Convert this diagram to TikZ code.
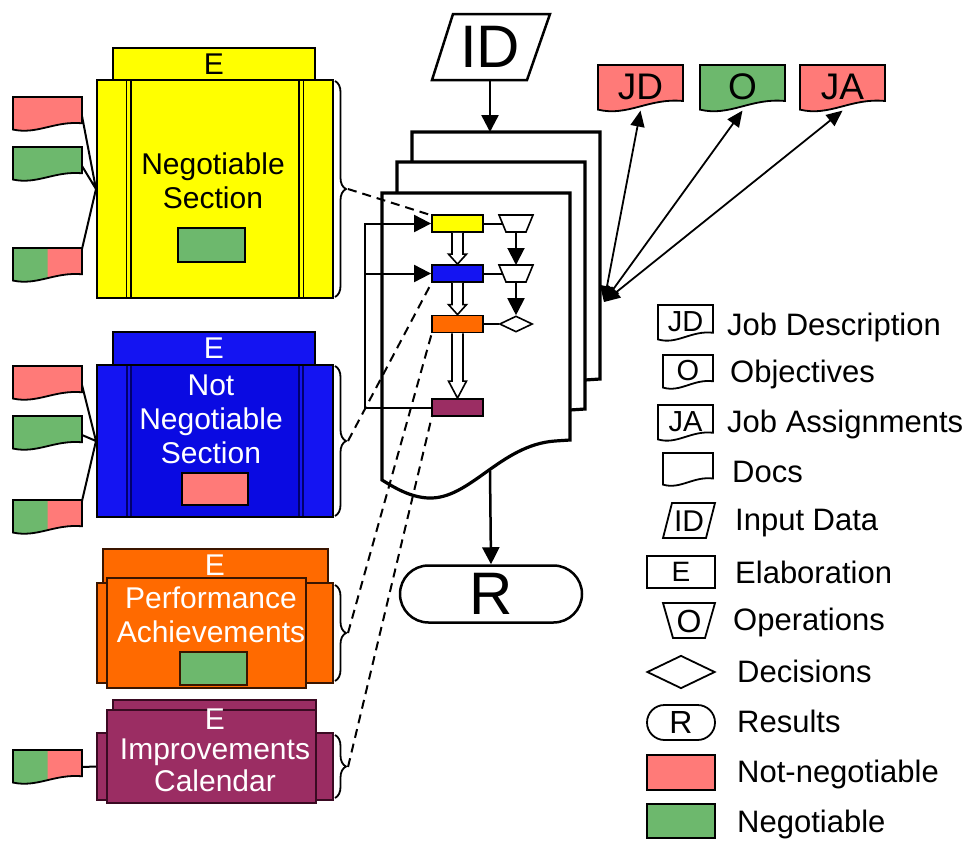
\documentclass[tikz,border=0pt]{standalone}
\usepackage{fontspec}
\setmainfont{Liberation Sans}
\usetikzlibrary{arrows.meta,calc,decorations.pathreplacing,shapes.geometric,shapes.misc}

\definecolor{yel}{HTML}{FFFF00}
\definecolor{blu}{HTML}{1414F2}
\definecolor{bluin}{HTML}{0A0AE2}
\definecolor{navy}{HTML}{00006E}
\definecolor{org}{HTML}{FF6A00}
\definecolor{pur}{HTML}{9B2D63}
\definecolor{neg}{HTML}{6DB86D}
\definecolor{nneg}{HTML}{FF7A78}
\definecolor{dkbrown}{HTML}{3A1500}
\definecolor{dkpur}{HTML}{3A0A22}

\newcommand\fsz[2]{\fontsize{#1}{#2}\selectfont}

% document symbol with a wavy lower edge: x, y (top left), width, height
\newcommand\docpath[4]{(#1,#2) -- ({#1+#3},#2) -- ({#1+#3},{#2+0.75*#4}) .. controls ({#1+0.6*#3},{#2+0.68*#4}) and ({#1+0.35*#3},{#2+1.08*#4}) .. (#1,{#2+0.93*#4}) -- cycle}

% coloured token: name, x, y, fill
\newcommand\tok[4]{%
  \draw[line width=1.8pt, fill=#4] \docpath{#2}{#3}{69}{35};
  \coordinate (#1) at ({#2+69},{#3+19});
}
% half negotiable / half not-negotiable token: name, x, y, anchor offset
\newcommand\splittok[4]{%
  \fill[neg] \docpath{#2}{#3}{69}{35};
  \begin{scope}
    \clip ({#2+34.5},{#3-2}) rectangle ({#2+72},{#3+42});
    \fill[nneg] \docpath{#2}{#3}{69}{35};
  \end{scope}
  \draw[line width=1.8pt] \docpath{#2}{#3}{69}{35};
  \coordinate (#1) at ({#2+69},{#3+#4});
}
% labelled document: name, x, y, w, h, fill, text, size
\newcommand\docnode[8]{%
  \draw[line width=1.8pt, fill=#6] \docpath{#2}{#3}{#4}{#5};
  \node[font=\fsz{#8}{#8}, inner sep=0pt] (#1) at ({#2+#4/2},{#3+0.45*#5}) {#7};
  \coordinate (#1-b) at ({#2+#4/2},{#3+0.95*#5});
}
% hollow block arrow between two stacked nodes: upper, lower, head length
\newcommand\hollow[3]{%
  \draw[line width=1.6pt, fill=white]
    ($(#1.south)+(-5.5,0)$) -- ($(#2.north)+(-5.5,-#3)$) -- ($(#2.north)+(-9,-#3)$)
    -- (#2.north) -- ($(#2.north)+(9,-#3)$) -- ($(#2.north)+(5.5,-#3)$) -- ($(#1.south)+(5.5,0)$);
}
% outline of the large document sheet
\newcommand\bigdoc{(382,193) -- (570,193) -- (570,440) -- (555,441) .. controls (500,445) and (470,500) .. (428,498) .. controls (410,497) and (395,488) .. (382,480) -- cycle}

\begin{document}
\begin{tikzpicture}[x=1pt,y=-1pt,
  box/.style={draw=black, line width=2pt, inner sep=0pt},
  lnk/.style={draw=black, line width=2pt},
  big/.style={-{Triangle[length=17pt,width=17pt]}},
  dsh/.style={line width=2pt, dash pattern=on 9pt off 6pt},
  brc/.style={decorate, decoration={brace, amplitude=11pt}, line width=1.8pt},
  small/.style={draw=black, line width=1.8pt, minimum width=51pt, minimum height=17pt, inner sep=0pt},
  lbl/.style={anchor=base west, inner sep=0pt, font=\fsz{31}{34}},
  sym/.style={draw=black, line width=1.8pt},
  dline/.style={draw=black, line width=3.2pt},
  btxt/.style={font=\fsz{30}{34}, align=center, inner sep=0pt},
  dbl/.style={line width=1.8pt, {Triangle[length=16pt,width=14pt]}-{Triangle[length=16pt,width=14pt]}},
]
\useasboundingbox (0,0) rectangle (975,841);

% ---------------- Negotiable section
\node[box, fill=yel, minimum width=202pt, minimum height=33pt, font=\fsz{30}{34}] (ytab) at (214,64) {E};
\node[box, fill=yel, minimum width=236pt, minimum height=218pt] (ysec) at (215,189) {};
\draw[line width=1.5pt] (126.5,80) -- (126.5,298) (131,80) -- (131,298) (299,80) -- (299,298) (303.5,80) -- (303.5,298);
\node[btxt] (ytxt) at (213,181) {Negotiable\\Section};
\node[box, line width=1.6pt, fill=neg, minimum width=67pt, minimum height=34pt] (ychip) at (211.5,245) {};
\draw[brc] (335,81) -- (335,297);
\coordinate (ybr) at (348,189);
\tok{yk1}{13}{97}{nneg}
\tok{yk2}{13}{147}{neg}
\splittok{yk3}{13}{248}{1}
\draw[lnk] (yk1) -- (ysec.west) (yk2) -- (ysec.west) (yk3) -- (ysec.west);

% ---------------- Not negotiable section
\node[box, fill=blu, minimum width=202pt, minimum height=33pt, font=\fsz{30}{34}, text=white] (ntab) at (214,348.5) {E};
\node[box, fill=blu, minimum width=236pt, minimum height=152pt] (nsec) at (215,441) {};
\fill[bluin] (131,366) rectangle (299,516);
\draw[navy, line width=2pt] (126.5,366) -- (126.5,516) (130.5,366) -- (130.5,516) (299,366) -- (299,516) (303,366) -- (303,516);
\node[btxt, text=white] (ntxt) at (211,419) {Not\\Negotiable\\Section};
\node[box, line width=1.6pt, fill=nneg, minimum width=66pt, minimum height=32pt] (nchip) at (215,489) {};
\draw[brc] (335,366) -- (335,516);
\coordinate (nbr) at (348,441);
\tok{nk1}{13}{366}{nneg}
\tok{nk2}{13}{416}{neg}
\splittok{nk3}{13}{500}{1}
\draw[lnk] (nk1) -- (nsec.west) (nk2) -- (nsec.west) (nk3) -- (nsec.west);

% ---------------- Performance achievements
\draw[draw=dkbrown, line width=2pt, fill=org] (103,549) rectangle (328,600);
\node[btxt, text=white] (otab) at (215,565) {E};
\node[draw=dkbrown, line width=2pt, fill=org, minimum width=236pt, minimum height=100pt, inner sep=0pt] (osec) at (215,633) {};
\node[draw=dkbrown, line width=2pt, fill=org, minimum width=199pt, minimum height=110pt, inner sep=0pt] (ofront) at (206.5,633) {};
\node[btxt, text=white] (otxt) at (211,615) {Performance\\Achievements};
\node[draw=dkbrown, line width=1.6pt, fill=neg, minimum width=67pt, minimum height=33pt, inner sep=0pt] (ochip) at (213.5,668.5) {};
\draw[brc] (335,585) -- (335,681);
\coordinate (obr) at (348,633);

% ---------------- Improvements calendar
\node[draw=dkpur, line width=2pt, fill=pur, minimum width=236pt, minimum height=67pt, inner sep=0pt] (psec) at (215,766.5) {};
\draw[draw=dkpur, line width=2pt, fill=pur] (113,700) rectangle (316,725);
\node[draw=dkpur, line width=2pt, fill=pur, minimum width=209pt, minimum height=93pt, inner sep=0pt] (pfront) at (211.5,756.5) {};
\node[btxt, text=white] (ptab) at (215,719) {E};
\node[btxt, font=\fsz{30}{32}, text=white] (ptxt) at (215,765) {Improvements\\Calendar};
\draw[brc] (335,735) -- (335,798);
\coordinate (pbr) at (348,767);
\splittok{pk1}{13}{750}{17}
\draw[lnk] (pk1) -- (psec.west);

% ---------------- stack of documents
\begin{scope}[shift={(30,-61)}]
  \draw[dline, fill=white] \bigdoc;
\end{scope}
\begin{scope}[shift={(15,-31)}]
  \draw[dline, fill=white] \bigdoc;
\end{scope}
\draw[dline, fill=white] \bigdoc;
\coordinate (stacktop) at (490,132);
\coordinate (docout) at (490,471);
\coordinate (hub) at (604,302);

% input data
\draw[line width=2.5pt, fill=white] (453,14) -- (550,14) -- (527,80) -- (432,80) -- cycle;
\node[font=\fsz{60}{60}, inner sep=0pt] (idt) at (490,47) {ID};
\coordinate (idb) at (490,80);
\draw[line width=2.5pt, big] (idb) -- (stacktop);

% result
\node[draw, line width=2.5pt, rounded rectangle, minimum width=182pt, minimum height=57pt, inner sep=0pt, font=\fsz{60}{60}] (res) at (491,594) {R};
\draw[line width=2.5pt, big] (docout) -- (res.north);

% ---------------- inner flow
\coordinate (fbx) at (365,0);
\draw[dsh] (ybr) -- (457.5,223.5);
\draw[dsh] (nbr) -- (432,282);
\draw[dsh] (obr) -- (432,332.5);
\draw[dsh] (pbr) -- (432,416);

\node[small, fill=yel] (y1) at (457.5,223.5) {};
\node[small, fill=blu] (b1) at (457.5,273.5) {};
\node[small, fill=org] (o1) at (457.5,324) {};
\node[small, fill=pur] (p1) at (457.5,407.5) {};

\draw[sym, line width=1.6pt, fill=white] (499,215) -- (533,215) -- (526,232) -- (506,232) -- cycle;
\coordinate (t1w) at (502.5,223.5);
\coordinate (t1s) at (516,232);
\draw[sym, line width=1.6pt, fill=white] (499,265) -- (533,265) -- (526,282) -- (506,282) -- cycle;
\coordinate (t2w) at (502.5,273.5);
\coordinate (t2n) at (516,265);
\coordinate (t2s) at (516,282);
\node[draw, line width=1.6pt, diamond, minimum width=33pt, minimum height=16pt, inner sep=0pt, fill=white] (d1) at (516,324) {};

\draw[lnk] (y1.east) -- (t1w) (b1.east) -- (t2w) (o1.east) -- (d1.west);
\draw[lnk, big] (t1s) -- (t2n);
\draw[lnk, big] (t2s) -- (d1.north);
\draw[lnk, big] (p1.west) -- (p1.west -| fbx) |- (y1.west);
\draw[lnk, big] (b1.west -| fbx) -- (b1.west);
\hollow{y1}{b1}{10}
\hollow{b1}{o1}{10}
\hollow{o1}{p1}{17}

% ---------------- documents fed by the process
\docnode{jd}{598}{65}{85}{48}{nneg}{JD}{37}
\docnode{ob}{700}{65}{85}{48}{neg}{O}{37}
\docnode{ja}{800}{65}{85}{48}{nneg}{JA}{37}
\draw[dbl] (hub) -- (jd-b);
\draw[dbl] (hub) -- (ob-b);
\draw[dbl] (hub) -- (ja-b);

% ---------------- legend
\docnode{lgjd}{658}{305}{55}{37}{white}{JD}{29}
\node[lbl] (l1) at (727,335) {Job Description};
\docnode{lgo}{663}{355}{50}{35}{white}{O}{29}
\node[lbl] (l2) at (730,382) {Objectives};
\docnode{lgja}{658}{405}{55}{37}{white}{JA}{29}
\node[lbl] (l3) at (727,432) {Job Assignments};
\docnode{lgdoc}{663}{453}{50}{34}{white}{}{29}
\node[lbl] (l4) at (732,482) {Docs};
\draw[sym] (672,503) -- (715,503) -- (706,538) -- (663,538) -- cycle;
\node[font=\fsz{30}{30}, inner sep=0pt] (lgid) at (689,521) {ID};
\node[lbl] (l5) at (735,530) {Input Data};
\node[sym, minimum width=68pt, minimum height=32pt, inner sep=0pt, font=\fsz{28}{28}] (lge) at (681,572) {E};
\node[lbl] (l6) at (735,583) {Elaboration};
\draw[sym] (663,603) -- (715,603) -- (705,638) -- (673,638) -- cycle;
\node[font=\fsz{32}{32}, inner sep=0pt] (lgop) at (689,621) {O};
\node[lbl] (l7) at (733,630) {Operations};
\node[sym, diamond, minimum width=68pt, minimum height=33pt, inner sep=0pt] (lgdec) at (681,672) {};
\node[lbl] (l8) at (737,682) {Decisions};
\node[sym, rounded rectangle, minimum width=68pt, minimum height=35pt, inner sep=0pt, font=\fsz{32}{32}] (lgr) at (681,722.5) {R};
\node[lbl] (l9) at (737,732) {Results};
\node[sym, fill=nneg, minimum width=68pt, minimum height=35pt] (lgnn) at (681,772.5) {};
\node[lbl] (l10) at (737,782) {Not-negotiable};
\node[sym, fill=neg, minimum width=68pt, minimum height=34pt] (lgn) at (681,821) {};
\node[lbl] (l11) at (737,832) {Negotiable};
\end{tikzpicture}
\end{document}
